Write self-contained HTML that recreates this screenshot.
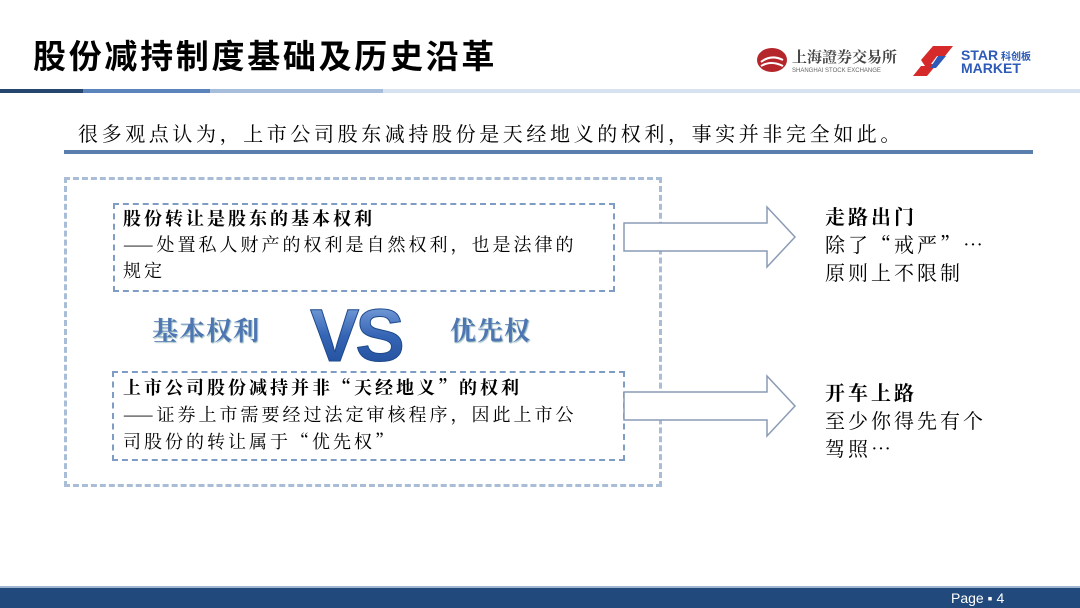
<!DOCTYPE html>
<html><head><meta charset="utf-8"><style>
body{margin:0;width:1080px;height:608px;position:relative;background:#fff;font-family:"Noto Serif CJK SC","Liberation Serif",serif;overflow:hidden}
.a{position:absolute;white-space:nowrap}
</style></head><body>
<div class="a" style="left:33px;top:37px;font-size:33px;font-weight:bold;letter-spacing:2.7px;line-height:40px;font-family:'Liberation Sans','Noto Sans CJK SC',sans-serif;color:#000">股份减持制度基础及历史沿革</div>
<svg class="a" style="left:755px;top:42px" width="320" height="36">
<ellipse cx="17" cy="18" rx="15" ry="12" fill="#b5262b"/>
<path d="M6 20 q10 -8 22 -2 M6 24 q10 -6 22 0" stroke="#fff" stroke-width="2" fill="none"/>
<text x="37" y="20" font-size="15" font-weight="bold" fill="#444" font-family="Noto Serif CJK SC">上海證券交易所</text>
<text x="37" y="30" font-size="6" fill="#666" font-family="Liberation Sans">SHANGHAI STOCK EXCHANGE</text>
<path d="M178 4 h20 l-8 10 h-8 l-6 8 l6 0 l-10 12 h-14 l8 -10 h4 l-4 -6z" fill="#d62a2a"/>
<path d="M183 14 l8 0 l-10 12 h-6z" fill="#2e5bb8"/>
<text x="206" y="18" font-size="14" font-weight="bold" fill="#2e5bb8" font-family="Liberation Sans">STAR</text>
<text x="246" y="18" font-size="10" font-weight="bold" fill="#2e5bb8" font-family="Noto Sans CJK SC">科创板</text>
<text x="206" y="31" font-size="14" font-weight="bold" fill="#2e5bb8" font-family="Liberation Sans">MARKET</text>
</svg>
<div class="a" style="left:0;top:89px;width:83px;height:4px;background:#24466f"></div>
<div class="a" style="left:83px;top:89px;width:127px;height:4px;background:#5b84bd"></div>
<div class="a" style="left:210px;top:89px;width:173px;height:4px;background:#a6bedb"></div>
<div class="a" style="left:383px;top:89px;width:697px;height:4px;background:#d6e2ef"></div>
<div class="a" style="left:78px;top:120px;font-size:20px;letter-spacing:3.6px;line-height:26px">很多观点认为，上市公司股东减持股份是天经地义的权利，事实并非完全如此。</div>
<div class="a" style="left:64px;top:150px;width:969px;height:4px;background:#5a7eab"></div>
<div class="a" style="left:64px;top:177px;width:592px;height:304px;border:3px dashed #a9bdd7"></div>
<div class="a" style="left:113px;top:203px;width:498px;height:85px;border:2px dashed #7f9dc4"></div>
<div class="a" style="left:123px;top:205px;font-size:18px;letter-spacing:3px;line-height:26px"><b>股份转让是股东的基本权利</b><br>——处置私人财产的权利是自然权利，也是法律的<br>规定</div>
<div class="a" style="left:112px;top:371px;width:509px;height:86px;border:2px dashed #7f9dc4"></div>
<div class="a" style="left:123px;top:374px;font-size:18px;letter-spacing:3px;line-height:27px"><b>上市公司股份减持并非“天经地义”的权利</b><br>——证券上市需要经过法定审核程序，因此上市公<br>司股份的转让属于“优先权”</div>
<div class="a" style="left:152px;top:311px;font-size:26px;font-weight:bold;color:#4d76b3;letter-spacing:1px;text-shadow:1px 1px 1px #9bb">基本权利</div>
<div class="a" style="left:450px;top:311px;font-size:26px;font-weight:bold;color:#4d76b3;letter-spacing:1px;text-shadow:1px 1px 1px #9bb">优先权</div>
<svg class="a" style="left:300px;top:295px" width="110" height="75">
<defs><linearGradient id="g" x1="0" y1="0" x2="0" y2="1"><stop offset="0" stop-color="#8fb2e6"/><stop offset="0.5" stop-color="#3565b5"/><stop offset="1" stop-color="#1d4a96"/></linearGradient></defs>
<text x="10" y="66" font-size="74" font-weight="bold" fill="url(#g)" stroke="#1e4a8c" stroke-width="1" font-family="Liberation Sans" letter-spacing="-4">VS</text>
</svg>
<svg class="a" style="left:620px;top:200px" width="190" height="250">
<path d="M4 23 H147 V7 L175 37 L147 67 V51 H4Z" fill="#fff" stroke="#8a9bb5" stroke-width="1.5"/>
<path d="M4 192 H147 V176 L175 206 L147 236 V220 H4Z" fill="#fff" stroke="#8a9bb5" stroke-width="1.5"/>
</svg>
<div class="a" style="left:825px;top:202px;font-size:20px;letter-spacing:3px;line-height:28px"><b>走路出门</b><br>除了“戒严”…<br>原则上不限制</div>
<div class="a" style="left:825px;top:378px;font-size:20px;letter-spacing:3px;line-height:28px"><b>开车上路</b><br>至少你得先有个<br>驾照…</div>
<div class="a" style="left:0;top:586px;width:1080px;height:2px;background:#9fb5d0"></div>
<div class="a" style="left:0;top:588px;width:1080px;height:20px;background:#22497b"></div>
<div class="a" style="left:951px;top:589px;font-size:14px;color:#fff;font-family:'Liberation Sans',sans-serif;line-height:18px">Page ▪ 4</div>
</body></html>
